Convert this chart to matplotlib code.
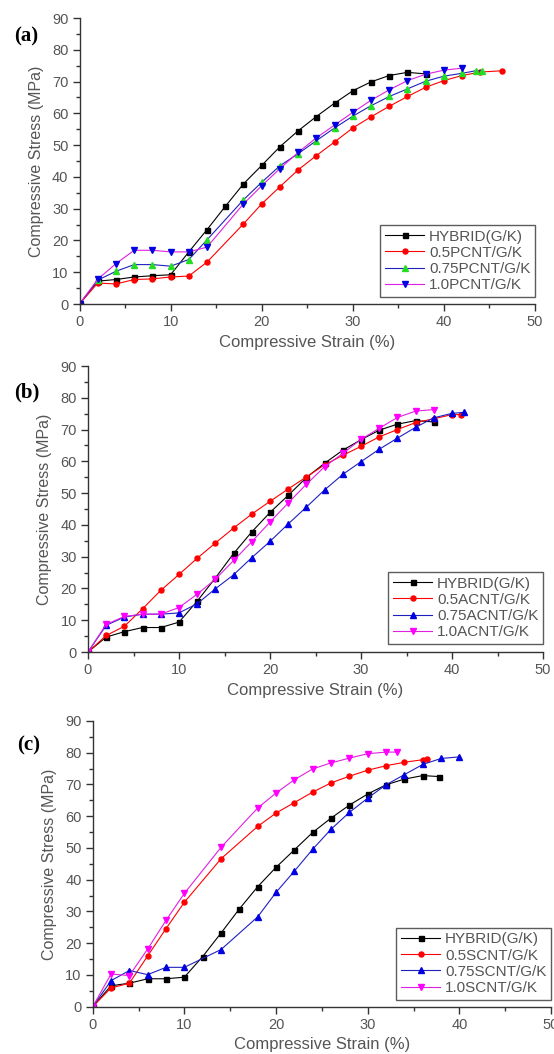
import matplotlib
matplotlib.use("Agg")
import matplotlib.pyplot as plt
from matplotlib.ticker import MultipleLocator

plt.rcParams['font.family'] = ['Liberation Sans', 'DejaVu Sans']

# ---------------- Panel (a) data ----------------
a_hyb_x = [0, 2, 4, 6, 8, 10, 12, 14, 16, 18, 20, 22, 24, 26, 28, 30, 32, 34, 36, 38]
a_hyb_y = [0, 7.2, 7.7, 8.5, 8.9, 9.2, 16.4, 23.4, 30.7, 37.8, 43.6, 49.5, 54.5, 59.0, 63.2, 67.1, 69.9, 71.9, 72.9, 72.4]
a_p05_x = [0, 2, 4, 6, 8, 10, 12, 14, 18, 20, 22, 24, 26, 28, 30, 32, 34, 36, 38, 40, 42, 44, 46.4]
a_p05_y = [0, 6.6, 6.3, 7.7, 7.9, 8.5, 8.8, 13.2, 25.2, 31.5, 36.9, 42.2, 46.7, 51.0, 55.4, 58.9, 62.2, 65.3, 68.2, 70.3, 71.9, 73.0, 73.4]
a_p075_x = [0, 2, 4, 6, 8, 10, 12, 14, 18, 20, 22, 24, 26, 28, 30, 32, 34, 36, 38, 40, 42, 43.5, 44.2]
a_p075_y = [0, 7.5, 10.3, 12.4, 12.4, 11.9, 14.0, 20.2, 32.8, 38.3, 43.5, 47.3, 51.4, 55.4, 59.1, 62.4, 65.3, 67.7, 70.1, 71.7, 72.6, 73.4, 73.4]
a_p10_x = [0, 2, 4, 6, 8, 10, 12, 14, 18, 20, 22, 24, 26, 28, 30, 32, 34, 36, 38, 40, 42]
a_p10_y = [0, 7.8, 12.7, 16.9, 16.9, 16.4, 16.4, 17.9, 31.5, 37.2, 42.6, 47.7, 52.3, 56.3, 60.3, 64.1, 67.4, 70.3, 72.3, 73.6, 74.2]
a_labels = ["HYBRID(G/K)", "0.5PCNT/G/K", "0.75PCNT/G/K", "1.0PCNT/G/K"]

# ---------------- Panel (b) data ----------------
b_hyb_x = [0, 2, 4, 6, 8, 10, 12, 14, 16, 18, 20, 22, 24, 26, 28, 30, 32, 34, 36, 38]
b_hyb_y = [0, 4.7, 6.4, 7.7, 7.7, 9.4, 16.0, 23.3, 31.0, 37.8, 43.9, 49.3, 54.9, 59.4, 63.5, 66.8, 69.8, 71.7, 72.8, 72.4]
b_a05_x = [0, 2, 4, 6, 8, 10, 12, 14, 16, 18, 20, 22, 24, 26, 28, 30, 32, 34, 36, 38, 40, 41]
b_a05_y = [0, 5.2, 8.1, 13.6, 19.4, 24.4, 29.5, 34.3, 39.0, 43.4, 47.4, 51.3, 55.1, 58.9, 61.9, 64.7, 67.7, 70.0, 72.2, 73.4, 74.7, 74.7]
b_a075_x = [0, 2, 4, 6, 8, 10, 12, 14, 16, 18, 20, 22, 24, 26, 28, 30, 32, 34, 36, 38, 40, 41.3]
b_a075_y = [0, 8.4, 11.0, 11.9, 11.9, 12.3, 15.2, 19.9, 24.3, 29.7, 34.8, 40.3, 45.6, 51.0, 55.9, 59.9, 63.8, 67.3, 70.7, 73.7, 75.1, 75.4]
b_a10_x = [0, 2, 4, 6, 8, 10, 12, 14, 16, 18, 20, 22, 24, 26, 28, 30, 32, 34, 36, 38]
b_a10_y = [0, 8.7, 11.2, 11.9, 11.9, 14.0, 18.2, 22.9, 28.8, 34.7, 40.9, 46.9, 52.8, 58.3, 62.5, 66.9, 70.4, 73.8, 75.8, 76.3]
b_labels = ["HYBRID(G/K)", "0.5ACNT/G/K", "0.75ACNT/G/K", "1.0ACNT/G/K"]

# ---------------- Panel (c) data ----------------
c_hyb_x = [0, 2, 4, 6, 8, 10, 12, 14, 16, 18, 20, 22, 24, 26, 28, 30, 32, 34, 36, 37.8]
c_hyb_y = [0, 6.6, 7.4, 8.8, 8.8, 9.3, 15.8, 23.2, 30.8, 37.8, 43.9, 49.4, 54.9, 59.4, 63.5, 67.0, 69.9, 71.7, 72.8, 72.5]
c_s05_x = [0, 2, 4, 6, 8, 10, 14, 18, 20, 22, 24, 26, 28, 30, 32, 34, 36, 36.5]
c_s05_y = [0, 5.9, 7.4, 16.0, 24.6, 32.9, 46.6, 56.8, 61.0, 64.3, 67.6, 70.5, 72.6, 74.5, 75.9, 77.0, 77.8, 78.0]
c_s075_x = [0, 2, 4, 6, 8, 10, 14, 18, 20, 22, 24, 26, 28, 30, 32, 34, 36, 38, 40]
c_s075_y = [0, 8.2, 11.4, 10.1, 12.4, 12.4, 18.0, 28.3, 36.0, 42.7, 49.6, 55.9, 61.2, 65.7, 69.9, 73.1, 76.3, 78.2, 78.7]
c_s10_x = [0, 2, 4, 6, 8, 10, 14, 18, 20, 22, 24, 26, 28, 30, 32, 33.2]
c_s10_y = [0, 10.3, 9.8, 18.2, 27.2, 35.7, 50.2, 62.6, 67.3, 71.5, 74.9, 76.8, 78.3, 79.7, 80.2, 80.2]
c_labels = ["HYBRID(G/K)", "0.5SCNT/G/K", "0.75SCNT/G/K", "1.0SCNT/G/K"]

W, H = 554, 1054
fig = plt.figure(figsize=(W / 100, H / 100), dpi=100)

GRAY = '#555555'


def make_axes(left, top, right, bottom):
    return fig.add_axes([left / W, 1 - bottom / H, (right - left) / W, (bottom - top) / H])


def style(ax):
    ax.set_xlim(0, 50)
    ax.set_ylim(0, 90)
    ax.spines['top'].set_visible(False)
    ax.spines['right'].set_visible(False)
    for s in ('left', 'bottom'):
        ax.spines[s].set_color('#333333')
        ax.spines[s].set_linewidth(1.0)
    ax.xaxis.set_major_locator(MultipleLocator(10))
    ax.xaxis.set_minor_locator(MultipleLocator(5))
    ax.yaxis.set_major_locator(MultipleLocator(10))
    ax.yaxis.set_minor_locator(MultipleLocator(5))
    ax.tick_params(which='major', direction='out', length=5, width=1, color='#333333',
                   labelsize=10.5, labelcolor=GRAY, pad=3)
    ax.tick_params(which='minor', direction='out', length=3, width=1, color='#333333')
    ax.set_xlabel('Compressive Strain (%)', fontsize=12, color=GRAY, labelpad=4)
    ax.set_ylabel('Compressive Stress (MPa)', fontsize=11.5, color=GRAY, labelpad=6)


def legend(ax, bottom_px_gap, panel_height):
    leg = ax.legend(loc='lower right', bbox_to_anchor=(1.0, bottom_px_gap / panel_height),
                    borderaxespad=0, fontsize=11, frameon=True, fancybox=False,
                    edgecolor='#333333', handlelength=2.6, handletextpad=0.3,
                    labelspacing=0.15, borderpad=0.3)
    leg.get_frame().set_linewidth(1.0)
    for t in leg.get_texts():
        t.set_color(GRAY)


lw = 0.8
ms = 3.6

# Panel (a)
axa = make_axes(79.5, 18, 535, 304)
axa.plot(a_hyb_x, a_hyb_y, color='black', lw=lw, marker='s', ms=ms, mfc='black', mec='black', label=a_labels[0])
axa.plot(a_p05_x, a_p05_y, color='red', lw=lw, marker='o', ms=ms, mfc='red', mec='red', label=a_labels[1])
axa.plot(a_p075_x, a_p075_y, color='#2020c0', lw=lw, marker='^', ms=ms + 0.8, mfc='#22dd22', mec='#22dd22', label=a_labels[2])
axa.plot(a_p10_x, a_p10_y, color='#e020e0', lw=lw, marker='v', ms=ms + 0.8, mfc='#0000e0', mec='#0000e0', label=a_labels[3])
style(axa)
legend(axa, 7, 286)
fig.text(14 / W, 1 - 36 / H, '(a)', fontsize=15, fontweight='bold', family='Liberation Serif', va='center')

# Panel (b)
axb = make_axes(88, 366, 543, 652)
axb.plot(b_hyb_x, b_hyb_y, color='black', lw=lw, marker='s', ms=ms, mfc='black', mec='black', label=b_labels[0])
axb.plot(b_a05_x, b_a05_y, color='red', lw=lw, marker='o', ms=ms, mfc='red', mec='red', label=b_labels[1])
axb.plot(b_a075_x, b_a075_y, color='#2020c0', lw=lw, marker='^', ms=ms + 0.8, mfc='#0000e0', mec='#0000e0', label=b_labels[2])
axb.plot(b_a10_x, b_a10_y, color='#e020e0', lw=lw, marker='v', ms=ms + 0.8, mfc='#ff00ff', mec='#ff00ff', label=b_labels[3])
style(axb)
legend(axb, 8, 286)
fig.text(14 / W, 1 - 392 / H, '(b)', fontsize=15, fontweight='bold', family='Liberation Serif', va='center')

# Panel (c)
axc = make_axes(92.7, 721, 551, 1006.7)
axc.plot(c_hyb_x, c_hyb_y, color='black', lw=lw, marker='s', ms=ms, mfc='black', mec='black', label=c_labels[0])
axc.plot(c_s05_x, c_s05_y, color='red', lw=lw, marker='o', ms=ms, mfc='red', mec='red', label=c_labels[1])
axc.plot(c_s075_x, c_s075_y, color='#2020c0', lw=lw, marker='^', ms=ms + 0.8, mfc='#0000e0', mec='#0000e0', label=c_labels[2])
axc.plot(c_s10_x, c_s10_y, color='#e020e0', lw=lw, marker='v', ms=ms + 0.8, mfc='#ff00ff', mec='#ff00ff', label=c_labels[3])
style(axc)
legend(axc, 7, 286)
fig.text(17 / W, 1 - 745 / H, '(c)', fontsize=15, fontweight='bold', family='Liberation Serif', va='center')

fig.savefig('out.png', dpi=100, facecolor='white')
